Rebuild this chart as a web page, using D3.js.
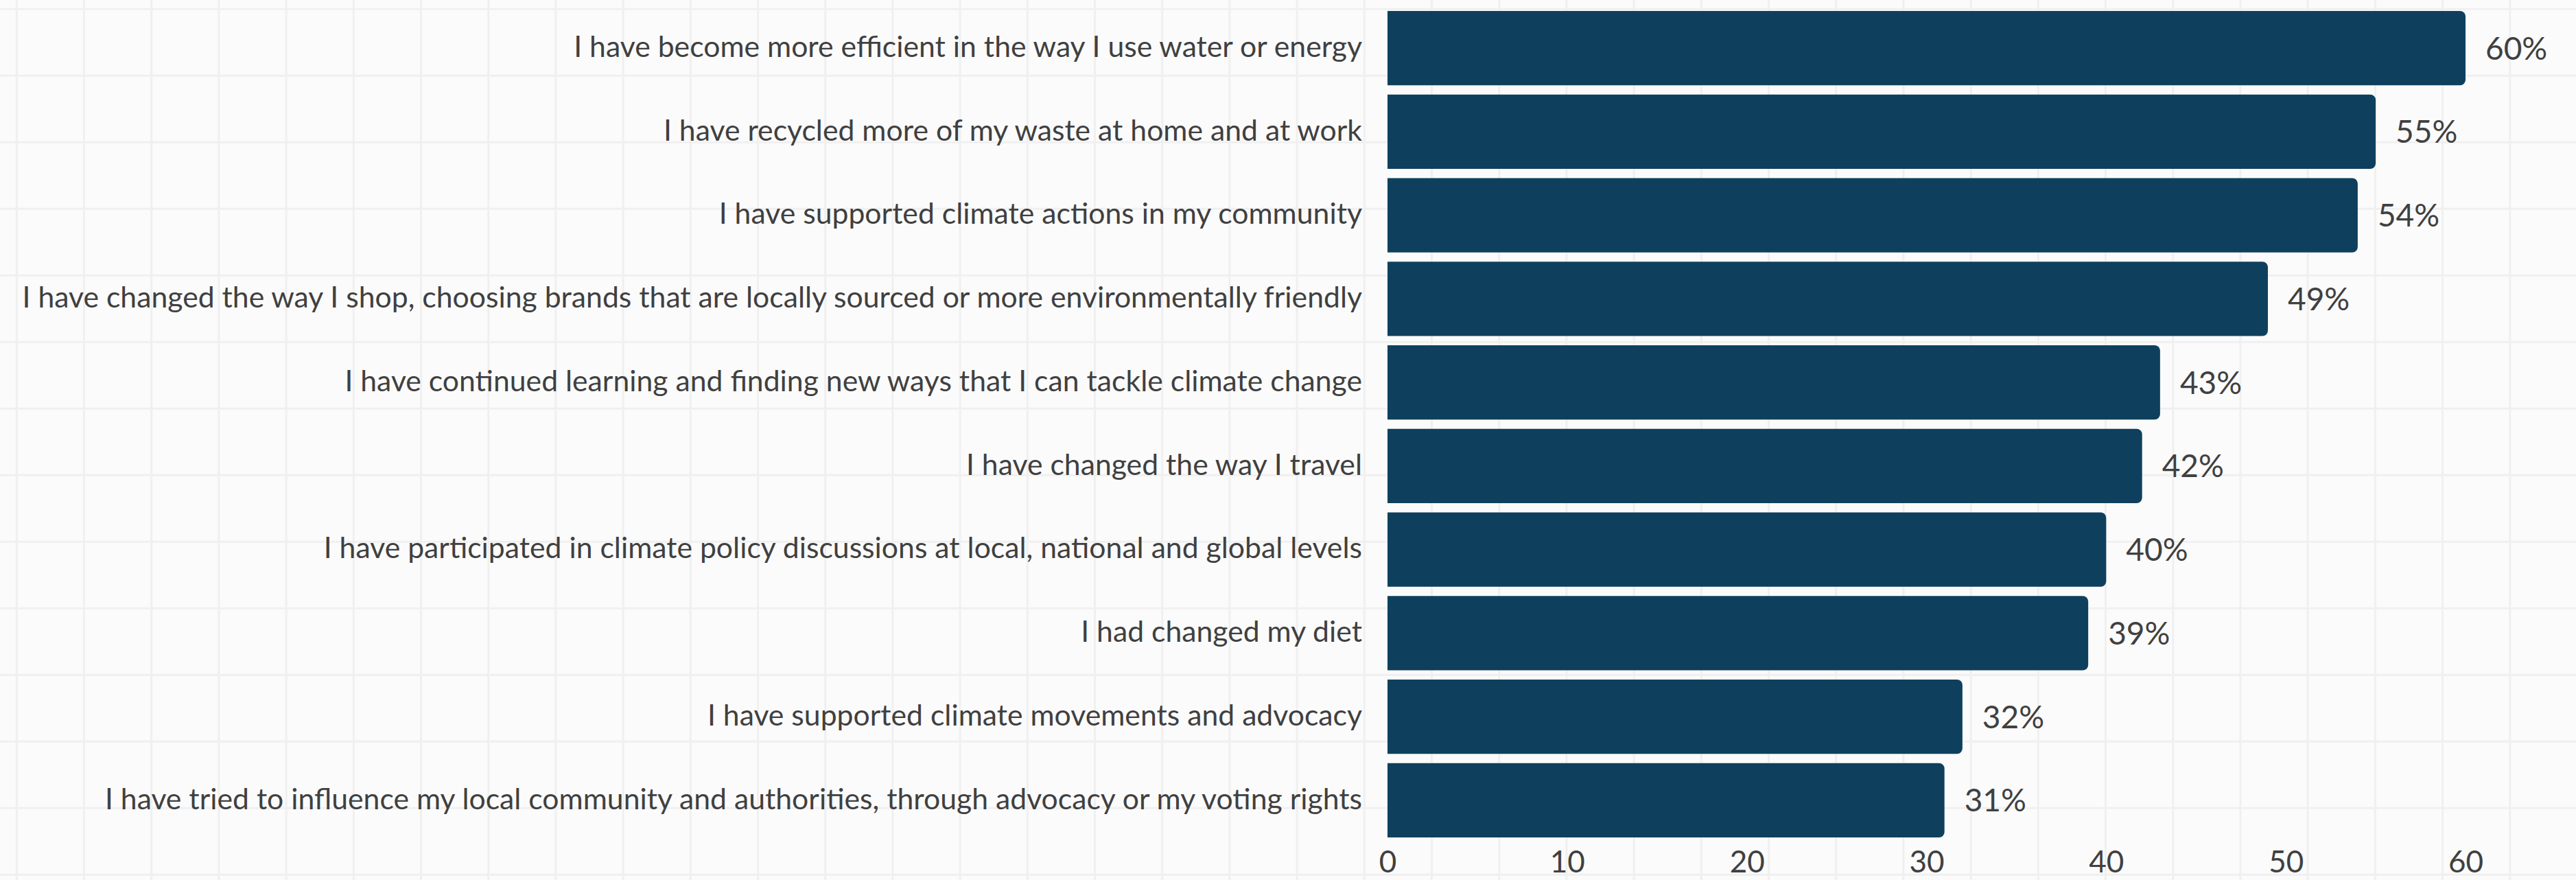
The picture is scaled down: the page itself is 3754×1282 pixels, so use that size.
<!DOCTYPE html>
<html>
<head>
<meta charset="utf-8">
<script src="https://cdn.jsdelivr.net/npm/d3@7"></script>
<style>
  html, body { margin: 0; padding: 0; background: #fbfbfb; }
  svg { display: block; }
</style>
</head>
<body>
<div id="chart"></div>
<script>
// ---- data ----
const categories = [
  "I have become more efficient in the way I use water or energy",
  "I have recycled more of my waste at home and at work",
  "I have supported climate actions in my community",
  "I have changed the way I shop, choosing brands that are locally sourced or more environmentally friendly",
  "I have continued learning and finding new ways that I can tackle climate change",
  "I have changed the way I travel",
  "I have participated in climate policy discussions at local, national and global levels",
  "I had changed my diet",
  "I have supported climate movements and advocacy",
  "I have tried to influence my local community and authorities, through advocacy or my voting rights"
];
const values = [60, 55, 54, 49, 43, 42, 40, 39, 32, 31];
const xTicks = [0, 10, 20, 30, 40, 50, 60];
const valueSuffix = "%";

// ---- layout ----
const W = 3754, H = 1282;
const fontFamily = "Lato, 'Noto Sans', sans-serif";
const textColor = "#404040";
const barColor = "#0e405e";

const svg = d3.select("#chart").append("svg")
  .attr("width", W).attr("height", H)
  .style("font-family", fontFamily);

svg.append("rect").attr("width", W).attr("height", H).attr("fill", "#fbfbfb");

// background grid
const grid = svg.append("g").attr("stroke", "#f0f0f0").attr("stroke-width", 3);
d3.range(24.3, W, 98.2).forEach(gx => {
  grid.append("line").attr("x1", gx).attr("x2", gx).attr("y1", 0).attr("y2", H);
});
d3.range(13.3, H, 97).forEach(gy => {
  grid.append("line").attr("y1", gy).attr("y2", gy).attr("x1", 0).attr("x2", W);
});

const x = d3.scaleLinear().domain([0, 60]).range([2022, 3593]);
const y = d3.scaleBand().domain(categories).range([16, 1220]).paddingInner(0.11).paddingOuter(0);

function roundedRight(x0, y0, w, h, r) {
  r = Math.min(r, w, h / 2);
  return `M${x0},${y0}H${x0 + w - r}A${r},${r} 0 0 1 ${x0 + w},${y0 + r}` +
         `V${y0 + h - r}A${r},${r} 0 0 1 ${x0 + w - r},${y0 + h}H${x0}Z`;
}

// bars
svg.append("g").selectAll("path")
  .data(categories)
  .join("path")
  .attr("d", (c, i) => roundedRight(x(0), y(c), x(values[i]) - x(0), y.bandwidth(), 8))
  .attr("fill", barColor);

// category labels
const catG = svg.append("g").attr("fill", textColor);
const catLabels = catG.selectAll("text")
  .data(categories)
  .join("text")
  .attr("x", 1985)
  .attr("y", c => y(c) + y.bandwidth() / 2 + 12.8)
  .attr("text-anchor", "end")
  .style("font-size", "44px")
  .text(c => c);

// fit font size so the longest label matches the reference width
let maxW = 0;
catLabels.each(function () { maxW = Math.max(maxW, this.getComputedTextLength()); });
const fitted = 44 * 1953 / maxW;
catLabels.style("font-size", fitted + "px");

// value labels
svg.append("g").selectAll("text")
  .data(categories)
  .join("text")
  .attr("x", (c, i) => x(values[i]) + 29)
  .attr("y", c => y(c) + y.bandwidth() / 2)
  .attr("dy", "0.36em")
  .attr("fill", textColor)
  .style("font-size", "46px")
  .text((c, i) => values[i] + valueSuffix);

// x axis
const axis = svg.append("g")
  .attr("transform", `translate(0,1271)`)
  .call(d3.axisBottom(x).tickValues(xTicks).tickSize(0).tickPadding(0));
axis.select(".domain").remove();
axis.selectAll("text")
  .attr("y", 0).attr("dy", 0)
  .attr("fill", textColor)
  .style("font-family", fontFamily)
  .style("font-size", "44px");
</script>
</body>
</html>
